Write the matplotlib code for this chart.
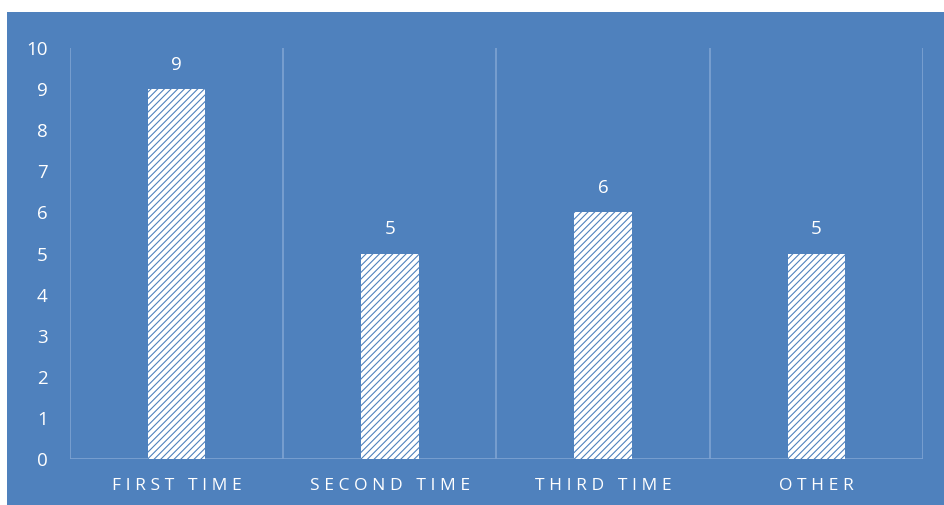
import numpy as np
import matplotlib
matplotlib.use("Agg")
import matplotlib.pyplot as plt
from matplotlib.patches import Rectangle

# data
categories = ["FIRST TIME", "SECOND TIME", "THIRD TIME", "OTHER"]
counts = [9, 5, 6, 5]
yticks = list(range(0, 11))

bg = "#4F81BD"
grid = "#7FA3D2"

plt.rcParams['font.family'] = ['Open Sans', 'DejaVu Sans']
plt.rcParams['hatch.linewidth'] = 0.8

def spaced(s):
    # wide letter spacing like the original
    return "\u2009\u200a".join(s)

fig = plt.figure(figsize=(9.45, 5.05), dpi=100)
fig.patch.set_facecolor("white")
fig.add_artist(Rectangle((7 / 945, 0), 1, 1 - 12 / 505, transform=fig.transFigure,
                         facecolor=bg, edgecolor="none", zorder=0))

ax = fig.add_axes([70 / 945, 1 - 459 / 505, (923 - 70) / 945, (459 - 48) / 505])
ax.set_facecolor(bg)
ax.patch.set_alpha(0)

x = np.arange(len(categories))
bars = ax.bar(x, counts, width=0.27, color="white", edgecolor=bg,
              hatch="/////", linewidth=0, zorder=3)

for xi, v in zip(x, counts):
    ax.annotate(str(v), (xi, v), xytext=(0, 11), textcoords="offset points",
                ha="center", va="bottom", color="white", fontsize=13.5)

# vertical separators between categories
for b in np.arange(-0.5, len(categories), 1.0):
    ax.plot([b, b], [0, 10], color=grid, linewidth=1.2, zorder=1)
ax.plot([-0.5, len(categories) - 0.5], [0, 0], color=grid, linewidth=1.2, zorder=2)

ax.set_xlim(-0.5, len(categories) - 0.5)
ax.set_ylim(0, 10)
ax.set_yticks(yticks)
ax.set_yticklabels([str(t) for t in yticks], color="white", fontsize=13.5)
ax.set_xticks(x)
ax.set_xticklabels([spaced(c) for c in categories], color="white", fontsize=12.5)
ax.tick_params(axis="both", length=0)
ax.tick_params(axis="y", pad=16)
ax.tick_params(axis="x", pad=14)
for s in ax.spines.values():
    s.set_visible(False)

fig.savefig("out.png", dpi=100, facecolor=fig.get_facecolor())
